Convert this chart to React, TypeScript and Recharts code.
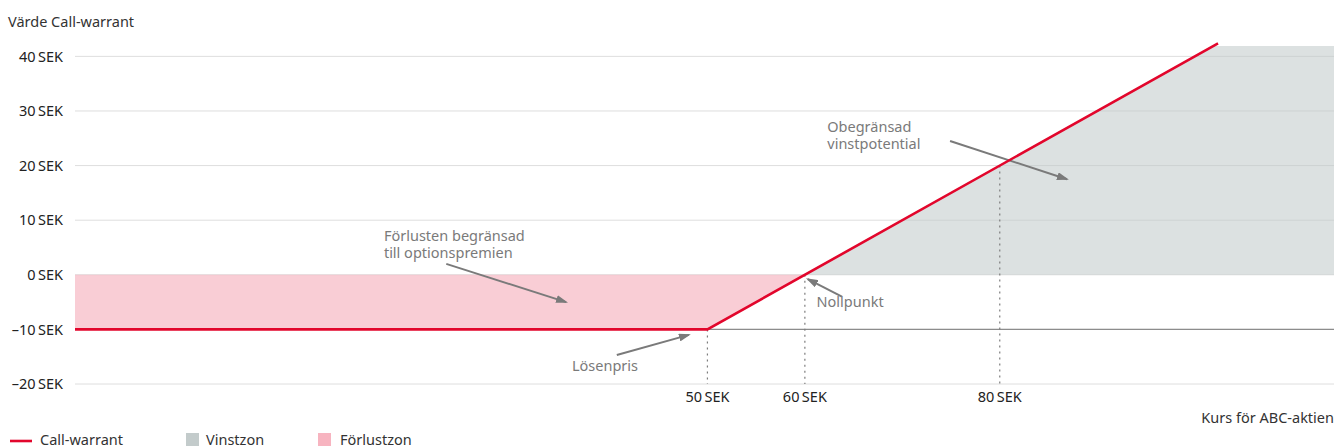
import React from "react"
import {
  ComposedChart,
  Area,
  Line,
  XAxis,
  YAxis,
  CartesianGrid,
  ReferenceLine,
  ReferenceDot,
} from "recharts"

// Payoff of a call warrant (strike 50 SEK, premium 10 SEK) against the share price
const warrantLine = [
  { kurs: -14.9, varde: -10 },
  { kurs: 50, varde: -10 },
  { kurs: 102.4, varde: 42.4 },
]

const lossZone = [
  { kurs: -14.9, zon: [-10, 0] },
  { kurs: 50, zon: [-10, 0] },
  { kurs: 60, zon: [0, 0] },
]

const profitZone = [
  { kurs: 60, zon: [0, 0] },
  { kurs: 101.9, zon: [0, 41.9] },
  { kurs: 114.3, zon: [0, 41.9] },
]

const xDomain = [-14.9, 114.3]
const yDomain = [-20, 43]
const xTicks = [50, 60, 80]
const yTicks = [-20, -10, 0, 10, 20, 30, 40]

// dotted drop lines from the payoff line down to the bottom of the plot
const dropLines = [
  { kurs: 50, varde: -10 },
  { kurs: 60, varde: 0 },
  { kurs: 80, varde: 20 },
]

const notes = [
  { kurs: 16.8, varde: 6.2, rader: ["Förlusten begränsad", "till optionspremien"] },
  { kurs: 62.3, varde: 26.2, rader: ["Obegränsad", "vinstpotential"] },
  { kurs: 61.2, varde: -5.9, rader: ["Nollpunkt"] },
  { kurs: 36.1, varde: -17.6, rader: ["Lösenpris"] },
]

const arrows = [
  { from: { x: 23.2, y: 2.0 }, to: { x: 35.5, y: -5.0 } },
  { from: { x: 74.9, y: 24.5 }, to: { x: 86.9, y: 17.5 } },
  { from: { x: 63.8, y: -4.0 }, to: { x: 60.3, y: -0.8 } },
  { from: { x: 40.7, y: -14.7 }, to: { x: 48.1, y: -11.0 } },
]

const RED = "#e2062c"
const NOTE = "#7a7a7a"
const FONT = "'Noto Sans', sans-serif"

const sek = (v: number) => (v < 0 ? `–${Math.abs(v)}\u2009SEK` : `${v}\u2009SEK`)

export default function App() {
  return (
    <div
      style={{
        position: "absolute",
        left: 0,
        top: 0,
        width: 1336,
        height: 448,
        background: "#fff",
        fontFamily: FONT,
      }}
    >
      <ComposedChart
        width={1336}
        height={448}
        margin={{ top: 40, right: 2, left: 0, bottom: 34 }}
      >
        <defs>
          <marker
            id="arrowHead"
            markerUnits="userSpaceOnUse"
            markerWidth={12}
            markerHeight={8}
            refX={10}
            refY={4}
            orient="auto"
          >
            <path d="M0,0 L12,4 L0,8 z" fill={NOTE} />
          </marker>
        </defs>
        <CartesianGrid vertical={false} horizontalValues={yTicks} stroke="#dedede" />
        <XAxis
          type="number"
          dataKey="kurs"
          domain={xDomain}
          ticks={xTicks}
          tickFormatter={sek}
          axisLine={false}
          tickLine={false}
          height={30}
          tick={{ fill: "#222", fontSize: 14.5, fontFamily: FONT }}
          allowDataOverflow
        />
        <YAxis
          type="number"
          domain={yDomain}
          ticks={yTicks}
          tickFormatter={sek}
          axisLine={false}
          tickLine={false}
          tickMargin={6}
          width={75}
          interval={0}
          tick={{ fill: "#222", fontSize: 14.5, fontFamily: FONT }}
        />
        <Area
          data={lossZone}
          dataKey="zon"
          type="linear"
          stroke="none"
          fill="#f6aebb"
          fillOpacity={0.62}
          isAnimationActive={false}
        />
        <Area
          data={profitZone}
          dataKey="zon"
          type="linear"
          stroke="none"
          fill="#bfc8c8"
          fillOpacity={0.55}
          isAnimationActive={false}
        />
        <ReferenceLine y={-10} stroke="#8c8c8c" strokeWidth={1.2} />
        {dropLines.map((d) => (
          <ReferenceLine
            key={d.kurs}
            segment={[
              { x: d.kurs, y: d.varde },
              { x: d.kurs, y: yDomain[0] },
            ]}
            stroke="#7d7d7d"
            strokeWidth={1.2}
            strokeDasharray="2 4"
            ifOverflow="visible"
          />
        ))}
        {arrows.map((a, i) => (
          <ReferenceLine
            key={`arrow-${i}`}
            segment={[a.from, a.to]}
            ifOverflow="visible"
            shape={(p: any) => (
              <line
                x1={p.x1}
                y1={p.y1}
                x2={p.x2}
                y2={p.y2}
                stroke={NOTE}
                strokeWidth={2}
                markerEnd="url(#arrowHead)"
              />
            )}
          />
        ))}
        {notes.map((n) => (
          <ReferenceDot
            key={n.rader[0]}
            x={n.kurs}
            y={n.varde}
            r={0}
            ifOverflow="visible"
            shape={(p: any) => (
              <text x={p.cx} y={p.cy} fill={NOTE} fontSize={14.5} fontFamily={FONT}>
                {n.rader.map((rad, j) => (
                  <tspan key={rad} x={p.cx} dy={j === 0 ? 0 : 17}>
                    {rad}
                  </tspan>
                ))}
              </text>
            )}
          />
        ))}
        <Line
          data={warrantLine}
          dataKey="varde"
          type="linear"
          stroke={RED}
          strokeWidth={2.6}
          dot={false}
          activeDot={false}
          isAnimationActive={false}
        />
      </ComposedChart>

      {/* axis titles and legend */}
      <svg
        width={1336}
        height={448}
        style={{ position: "absolute", left: 0, top: 0, pointerEvents: "none" }}
        fontFamily={FONT}
        fontSize={14.5}
      >
        <text x={8} y={27} fill="#333">
          Värde Call-warrant
        </text>
        <text x={1334} y={423} fill="#333" textAnchor="end">
          Kurs för ABC-aktien
        </text>
        <line x1={10} y1={441} x2={32} y2={441} stroke={RED} strokeWidth={2.6} />
        <text x={40} y={445} fill="#333">
          Call-warrant
        </text>
        <rect x={186} y={433} width={13} height={13} fill="#c3cbcb" />
        <text x={206} y={445} fill="#333">
          Vinstzon
        </text>
        <rect x={318} y={433} width={13} height={13} fill="#f7b4c0" />
        <text x={340} y={445} fill="#333">
          Förlustzon
        </text>
      </svg>
    </div>
  )
}
